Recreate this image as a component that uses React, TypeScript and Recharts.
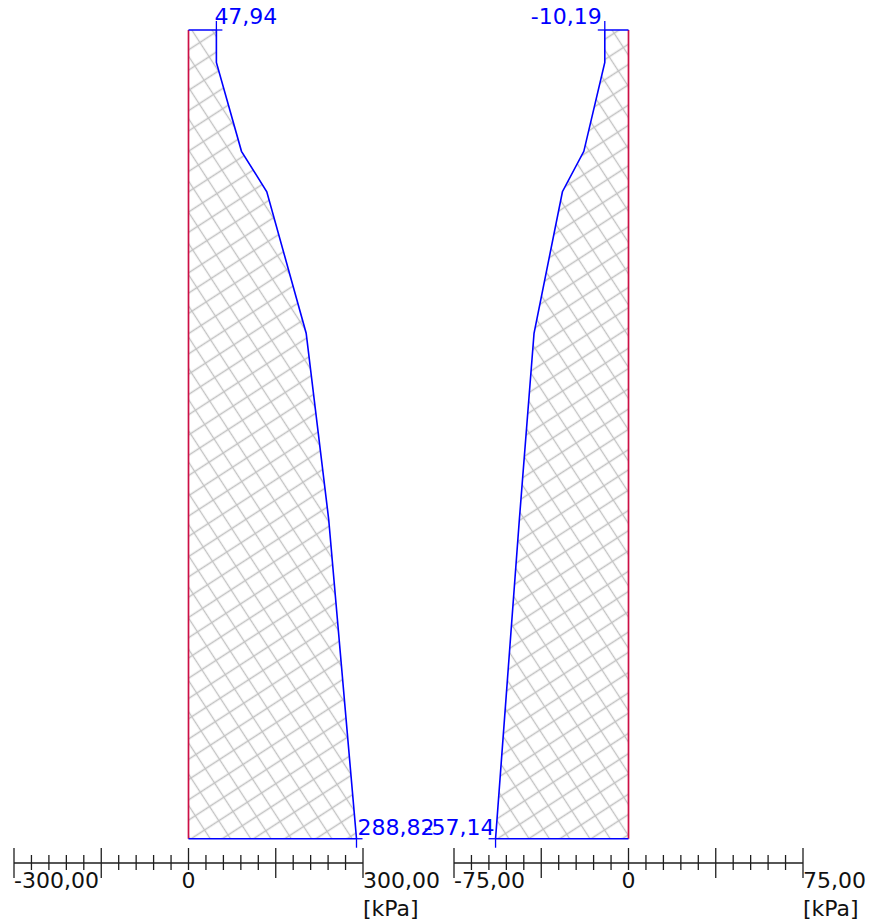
import React from "react";
import { ComposedChart, Area, XAxis, YAxis, ReferenceLine, ReferenceDot } from "recharts";

// Depths of the profile break points (top = 0)
const DEPTHS = [0, 0.8, 3.0, 4.0, 7.5, 12.1, 20];
const DEPTH_MAX = 20.6; // axis extent, leaves the gap between profile and scale bar

const LEFT_VALUES = [47.94, 47.94, 91.1, 134.6, 202.3, 241.0, 288.82];
const RIGHT_VALUES = [-10.19, -10.19, -19.2, -28.4, -40.6, -46.9, -57.14];

const LEFT_DOMAIN = [-300, 300];
const LEFT_TICKS = [-300, -270, -240, -210, -180, -150, -120, -90, -60, -30, 0, 30, 60, 90, 120, 150, 180, 210, 240, 270, 300];
const LEFT_MAJOR = [-300, -150, 0, 150, 300];
const LEFT_LABEL_VALUES = [-300, 0, 300];
const LEFT_LABEL_TEXT = ["-300,00", "0", "300,00"];

const RIGHT_DOMAIN = [-75, 75];
const RIGHT_TICKS = [-75, -67.5, -60, -52.5, -45, -37.5, -30, -22.5, -15, -7.5, 0, 7.5, 15, 22.5, 30, 37.5, 45, 52.5, 60, 67.5, 75];
const RIGHT_MAJOR = [-75, -37.5, 0, 37.5, 75];
const RIGHT_LABEL_VALUES = [-75, 0, 75];
const RIGHT_LABEL_TEXT = ["-75,00", "0", "75,00"];

const UNIT = "[kPa]";

const BLUE = "#0000ff";
const RED = "#cc0f45";
const AXIS = "#1e1e1e";
const HATCH = "#c2c2c2";
const FONT = "'DejaVu Sans', Verdana, sans-serif";

const fmt = (v: number) => v.toFixed(2).replace(".", ",");

function makeRows(values: number[]) {
  return DEPTHS.map((d, i) => ({ depth: d, value: values[i] }));
}

function AxisTick(props: any) {
  const { x, y, payload, majors, labelValues, labelText, maxValue } = props;
  const v = payload.value;
  const major = majors.includes(v);
  const up = major ? 15 : 8;
  const down = major ? (v === 0 ? 7 : 15) : 7;
  const li = labelValues.indexOf(v);
  return (
    <g>
      <line x1={x} x2={x} y1={y - up} y2={y + down} stroke={AXIS} strokeWidth={1.3} />
      {li >= 0 && (
        <text
          x={x}
          y={y + 25}
          textAnchor={v === 0 ? "middle" : "start"}
          fontFamily={FONT}
          fontSize={22}
          fill="#111"
        >
          {labelText[li]}
        </text>
      )}
      {v === maxValue && (
        <text x={x} y={y + 53} textAnchor="start" fontFamily={FONT} fontSize={22} fill="#111">
          {UNIT}
        </text>
      )}
    </g>
  );
}

function ValueMark(props: any) {
  const { cx, cy, text, side, pos } = props;
  const h = side === "right" ? 6 : -7;
  const vEnd = pos === "top" ? cy - 9 : cy + 9;
  const ty = pos === "top" ? cy - 6 : cy - 4;
  let tx = side === "right" ? cx + 1 : cx - 1;
  if (pos === "top") tx = side === "right" ? cx - 2 : cx - 3;
  return (
    <g>
      <line x1={cx} x2={cx + h} y1={cy} y2={cy} stroke={BLUE} strokeWidth={1.3} />
      <line x1={cx} x2={cx} y1={cy} y2={vEnd} stroke={BLUE} strokeWidth={1.3} />
      <text
        x={tx}
        y={ty}
        textAnchor={side === "right" ? "start" : "end"}
        fontFamily={FONT}
        fontSize={22}
        fill={BLUE}
      >
        {text}
      </text>
    </g>
  );
}

function Panel(props: any) {
  const { values, domain, ticks, majors, labelValues, labelText, left, width, mLeft, mRight, pid, side } = props;
  const rows = makeRows(values);
  const top = values[0];
  const bottom = values[values.length - 1];
  const lastDepth = DEPTHS[DEPTHS.length - 1];
  return (
    <div style={{ position: "absolute", left, top: 0 }}>
      <ComposedChart
        width={width}
        height={924}
        layout="vertical"
        data={rows}
        margin={{ top: 30, left: mLeft, right: mRight, bottom: 0 }}
      >
        <defs>
          <pattern id={pid} patternUnits="userSpaceOnUse" width={17} height={17} patternTransform="rotate(-33)">
            <rect width={17} height={17} fill="#ffffff" />
            <path d="M0 8.5 H17 M8.5 0 V17" stroke={HATCH} strokeWidth={1.3} />
          </pattern>
        </defs>
        <XAxis
          type="number"
          domain={domain}
          ticks={ticks}
          interval={0}
          height={61}
          tickSize={0}
          tickMargin={0}
          tickLine={false}
          axisLine={{ stroke: AXIS, strokeWidth: 1.3 }}
          allowDataOverflow
          tick={(p: any) => (
            <AxisTick
              {...p}
              majors={majors}
              labelValues={labelValues}
              labelText={labelText}
              maxValue={domain[1]}
            />
          )}
        />
        <YAxis type="number" dataKey="depth" domain={[0, DEPTH_MAX]} hide />
        <Area
          type="linear"
          dataKey="value"
          stroke={BLUE}
          strokeWidth={1.6}
          fill={`url(#${pid})`}
          fillOpacity={1}
          isAnimationActive={false}
          dot={false}
          activeDot={false}
        />
        <ReferenceLine
          segment={[{ x: 0, y: 0 }, { x: 0, y: lastDepth }]}
          stroke={RED}
          strokeWidth={1.7}
        />
        <ReferenceLine segment={[{ x: 0, y: 0 }, { x: top, y: 0 }]} stroke={BLUE} strokeWidth={1.5} />
        <ReferenceLine segment={[{ x: 0, y: lastDepth }, { x: bottom, y: lastDepth }]} stroke={BLUE} strokeWidth={1.5} />
        <ReferenceDot
          x={top}
          y={0}
          r={0}
          shape={(p: any) => <ValueMark {...p} text={fmt(top)} side={side} pos="top" />}
        />
        <ReferenceDot
          x={bottom}
          y={lastDepth}
          r={0}
          shape={(p: any) => <ValueMark {...p} text={fmt(bottom)} side={side} pos="bottom" />}
        />
      </ComposedChart>
    </div>
  );
}

export default function App() {
  return (
    <div style={{ position: "absolute", left: 0, top: 0, width: 882, height: 924, background: "#fff" }}>
      <Panel
        values={LEFT_VALUES}
        domain={LEFT_DOMAIN}
        ticks={LEFT_TICKS}
        majors={LEFT_MAJOR}
        labelValues={LEFT_LABEL_VALUES}
        labelText={LEFT_LABEL_TEXT}
        left={0}
        width={440}
        mLeft={14}
        mRight={77}
        pid="hatchL"
        side="right"
      />
      <Panel
        values={RIGHT_VALUES}
        domain={RIGHT_DOMAIN}
        ticks={RIGHT_TICKS}
        majors={RIGHT_MAJOR}
        labelValues={RIGHT_LABEL_VALUES}
        labelText={RIGHT_LABEL_TEXT}
        left={400}
        width={482}
        mLeft={54}
        mRight={79}
        pid="hatchR"
        side="left"
      />
    </div>
  );
}
